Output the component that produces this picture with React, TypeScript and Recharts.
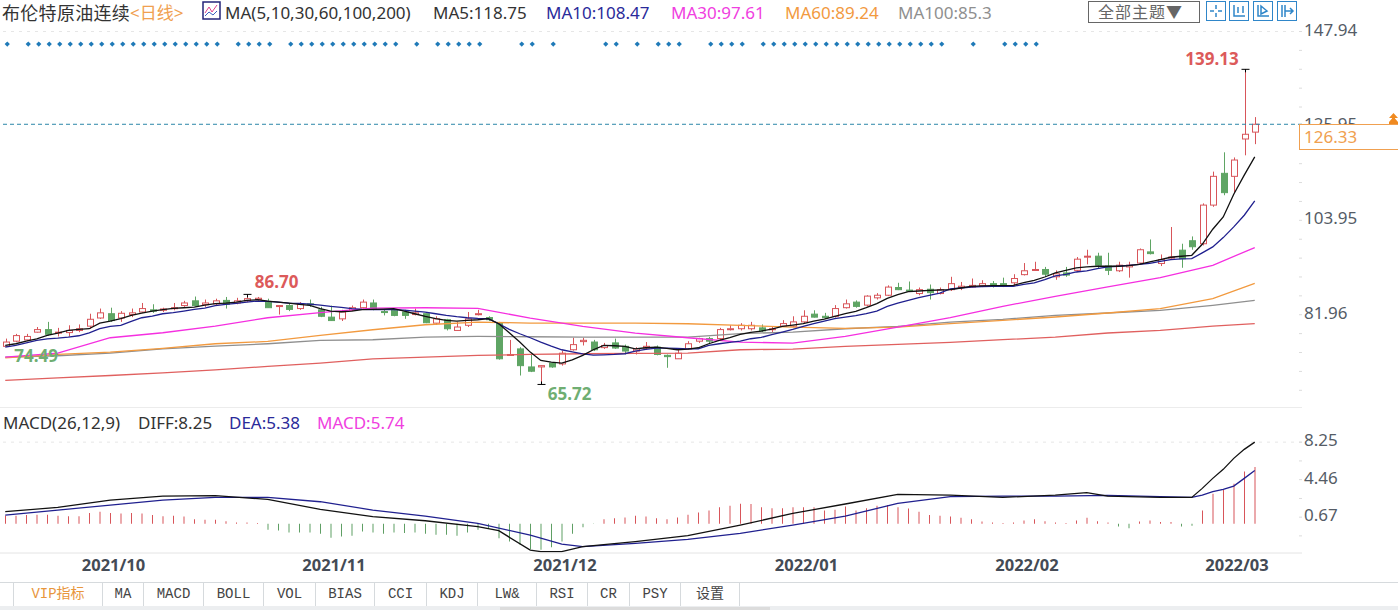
import React from "react";
import {
  Bar,
  Cell,
  ComposedChart,
  Line,
  ReferenceDot,
  ReferenceLine,
  XAxis,
  YAxis,
} from "recharts";

const dates = [
  "2021/09/22","2021/09/23","2021/09/24","2021/09/27","2021/09/28","2021/09/29","2021/09/30",
  "2021/10/01","2021/10/04","2021/10/05","2021/10/06","2021/10/07","2021/10/08","2021/10/11","2021/10/12","2021/10/13","2021/10/14","2021/10/15","2021/10/18","2021/10/19","2021/10/20","2021/10/21","2021/10/22","2021/10/25","2021/10/26","2021/10/27","2021/10/28","2021/10/29",
  "2021/11/01","2021/11/02","2021/11/03","2021/11/04","2021/11/05","2021/11/08","2021/11/09","2021/11/10","2021/11/11","2021/11/12","2021/11/15","2021/11/16","2021/11/17","2021/11/18","2021/11/19","2021/11/22","2021/11/23","2021/11/24","2021/11/25","2021/11/26","2021/11/29","2021/11/30",
  "2021/12/01","2021/12/02","2021/12/03","2021/12/06","2021/12/07","2021/12/08","2021/12/09","2021/12/10","2021/12/13","2021/12/14","2021/12/15","2021/12/16","2021/12/17","2021/12/20","2021/12/21","2021/12/22","2021/12/23","2021/12/24","2021/12/27","2021/12/28","2021/12/29","2021/12/30","2021/12/31",
  "2022/01/03","2022/01/04","2022/01/05","2022/01/06","2022/01/07","2022/01/10","2022/01/11","2022/01/12","2022/01/13","2022/01/14","2022/01/17","2022/01/18","2022/01/19","2022/01/20","2022/01/21","2022/01/24","2022/01/25","2022/01/26","2022/01/27","2022/01/28","2022/01/31",
  "2022/02/01","2022/02/02","2022/02/03","2022/02/04","2022/02/07","2022/02/08","2022/02/09","2022/02/10","2022/02/11","2022/02/14","2022/02/15","2022/02/16","2022/02/17","2022/02/18","2022/02/21","2022/02/22","2022/02/23","2022/02/24","2022/02/25","2022/02/28",
  "2022/03/01","2022/03/02","2022/03/03","2022/03/04","2022/03/07","2022/03/08",
];
const monthTicks = ["2021/10/01", "2021/11/01", "2021/12/01", "2022/01/03", "2022/02/01", "2022/03/01"];
const monthLabels = ["2021/10", "2021/11", "2021/12", "2022/01", "2022/02", "2022/03"];

const opens = [
  74.6,75.8,76.1,77.9,78.5,77.7,77.8,78.3,79.3,81.2,
  82.2,81.2,82.0,82.6,83.1,83.0,83.4,84.1,85.2,84.3,
  84.5,85.3,84.7,85.2,85.5,84.9,83.9,84.1,83.4,84.5,
  83.1,81.4,81.0,83.0,83.6,84.7,82.7,83.0,82.6,82.0,
  82.2,80.0,80.8,78.3,79.5,82.0,81.3,79.9,72.5,74.0,
  69.8,69.8,70.7,70.5,73.8,75.7,75.6,74.3,75.4,74.6,
  73.5,74.2,74.4,72.5,71.7,74.0,75.8,76.4,76.4,78.5,
  78.7,78.7,78.9,78.5,79.3,79.3,80.3,82.1,81.6,81.6,
  83.6,84.9,84.2,85.9,86.5,88.3,87.7,86.9,87.9,86.9,
  87.8,88.3,88.4,88.7,89.2,89.2,89.4,91.3,92.3,92.5,
  90.8,91.7,92.3,95.4,95.6,93.3,92.2,93.1,94.0,96.6,
  93.9,95.3,97.0,99.2,98.5,107.5,114.9,114.2,122.9,124.5,
];
const highs = [
  76.4,77.5,77.5,79.1,80.3,78.9,79.5,79.7,82.2,83.4,
  83.6,82.8,83.4,84.7,84.4,83.6,84.7,85.2,86.2,85.5,
  85.7,86.1,85.9,86.7,86.1,85.7,84.2,84.7,84.9,85.5,
  83.8,84.1,83.1,84.1,85.5,85.5,83.1,83.4,83.1,83.4,
  82.2,81.6,81.0,80.3,82.6,83.1,81.6,80.3,76.1,74.4,
  72.9,70.2,70.9,73.6,76.6,76.6,76.1,75.4,76.4,75.0,
  74.4,75.6,74.8,72.7,74.0,75.8,76.6,76.8,78.9,79.5,
  80.0,80.3,79.7,79.3,80.7,81.6,83.0,83.0,82.4,84.2,
  85.5,85.3,86.5,87.0,88.8,89.4,89.7,88.3,89.0,88.3,
  90.8,89.6,90.4,90.0,89.8,90.6,91.4,94.0,94.3,93.1,
  92.3,93.1,95.4,97.1,96.4,96.4,94.3,94.3,97.4,99.5,
  96.0,102.4,98.5,100.2,107.9,115.3,119.8,118.6,139.13,128.0,
];
const lows = [
  74.49,75.6,75.8,77.8,77.1,76.9,76.9,77.9,78.7,81.0,
  80.3,80.3,81.4,82.4,82.4,82.6,83.0,83.8,83.9,83.8,
  84.1,83.4,84.4,84.9,85.2,83.6,82.0,82.8,83.1,83.8,
  81.4,80.5,80.5,82.8,83.4,83.0,81.8,81.6,81.0,81.8,
  80.0,79.6,78.3,78.3,79.1,81.8,80.5,71.5,72.4,67.8,
  68.6,65.72,69.6,70.1,73.6,74.8,73.5,74.0,74.0,72.7,
  72.7,73.8,72.5,69.6,71.7,73.8,75.4,75.2,76.1,78.3,
  78.3,78.3,77.9,77.7,79.1,79.1,80.0,81.3,81.0,81.3,
  83.4,83.6,83.9,85.5,86.3,87.7,87.3,86.5,85.5,86.7,
  87.5,87.7,88.3,88.4,88.3,88.4,88.6,91.1,92.2,90.9,
  90.1,90.8,91.9,93.7,92.7,91.2,91.9,90.6,93.7,96.0,
  93.3,95.0,92.9,97.1,98.1,107.1,109.8,110.4,119.1,121.7,
];
const closes = [
  75.6,77.1,76.9,78.5,77.4,77.9,78.3,78.7,80.9,82.4,
  80.6,82.3,82.4,83.4,82.8,83.3,83.6,84.7,84.1,84.7,
  85.2,84.4,85.2,85.7,85.8,83.6,84.1,83.2,84.4,84.3,
  81.6,80.6,82.6,83.6,84.9,83.4,82.6,81.8,81.8,82.4,
  80.1,81.0,78.7,79.1,81.0,82.2,80.8,71.7,72.7,70.1,
  68.8,70.1,69.8,73.0,75.0,76.0,73.8,74.8,74.2,73.5,
  74.0,74.6,72.7,72.2,73.0,75.2,76.4,75.8,78.5,78.7,
  79.5,79.5,78.2,78.7,79.9,80.3,81.6,81.4,81.3,83.4,
  84.5,83.9,86.3,86.5,88.4,87.8,87.5,87.8,87.1,87.8,
  89.2,88.6,88.8,89.2,89.0,89.0,90.4,92.2,92.5,91.4,
  91.5,91.2,94.9,95.6,93.5,92.3,93.5,93.5,97.1,96.2,
  94.8,95.4,95.0,97.8,107.5,114.2,110.4,118.0,124.0,126.33,
];

const ma5 = [
  74.81,75.2,75.82,76.36,77.14,77.69,78.31,78.54,78.7,80.02,
  80.48,81.03,81.81,82.35,82.82,83.13,83.44,83.59,83.75,84.22,
  84.53,84.68,84.92,85.3,85.46,85.15,84.92,84.68,84.37,84.14,
  83.36,82.82,82.66,82.82,83.13,83.2,83.28,83.36,82.82,82.19,
  81.57,81.03,80.64,80.48,80.64,80.79,81.03,79.86,77.76,75.59,
  73.25,71.31,70.92,70.69,71.47,72.48,73.8,74.81,74.73,74.58,
  74.03,74.27,74.42,74.11,73.8,73.95,74.27,75.2,75.98,76.6,
  77.38,77.85,78.16,78.63,79.25,79.56,79.87,80.49,80.96,81.58,
  82.2,82.75,83.6,84.53,85.78,86.63,87.33,87.49,87.65,87.72,
  87.8,88.19,88.58,88.66,88.73,88.73,88.81,89.43,89.98,90.75,
  91.7,92.31,92.86,93.09,93.25,93.25,93.25,93.4,93.71,94.26,
  94.8,95.35,95.58,95.81,98.38,101.88,104.75,110.04,114.47,118.75,
];
const ma10 = [
  74.42,74.81,75.43,75.97,76.36,76.52,76.75,77.06,77.76,78.7,
  79.24,79.47,80.41,81.26,81.65,82.19,82.43,82.82,83.21,83.52,
  84.06,84.37,84.6,84.92,85.15,85.07,84.92,84.68,84.6,84.45,
  84.22,83.91,83.67,83.36,83.2,83.13,83.13,83.13,83.05,82.82,
  82.58,82.19,81.81,81.5,81.26,81.1,81.03,79.86,78.54,77.53,
  76.6,75.59,74.65,73.8,73.33,72.86,72.55,72.63,72.71,72.87,
  73.49,73.88,74.19,74.19,74.11,74.03,74.03,74.82,75.2,75.52,
  75.83,76.37,76.68,77.3,77.93,78.55,79.25,79.87,80.49,81.04,
  81.42,81.74,82.2,82.82,83.91,84.69,85.31,85.93,86.48,87.02,
  87.96,88.19,88.42,88.5,88.58,88.58,88.58,89.04,89.36,90.13,
  91.0,91.38,91.92,92.16,92.7,93.09,93.25,93.48,93.71,93.95,
  94.41,94.8,94.96,95.03,96.36,97.76,99.93,102.42,105.14,108.47,
];

// Readings of the slow averages, taken on these candles only
const slowDays = [0,5,10,15,20,25,30,35,40,45,50,55,60,65,70,75,80,85,90,95,100,105,110,115,119];
const ma30 = [72.09,73.02,76.6,77.76,79.32,81.26,82.43,83.52,83.59,83.44,81.18,79.24,77.69,76.6,75.59,75.36,76.92,79.09,81.27,83.91,86.25,88.43,90.6,93.48,97.61];
const ma60 = [71.93,72.71,73.25,74.11,75.2,75.74,77.14,78.46,79.63,80.25,80.0,80.0,80.0,79.86,79.48,79.09,78.78,79.09,79.87,80.65,81.43,82.36,83.37,85.7,89.24];
const ma100 = [72.09,72.4,73.02,74.03,74.65,75.2,75.97,76.13,76.75,76.91,76.83,76.75,76.75,76.75,77.54,77.93,78.7,79.25,80.26,80.88,81.82,82.36,82.98,84.15,85.3];
const ma200 = [66.65,67.27,67.81,68.43,69.13,69.91,70.69,71.7,72.09,72.48,72.71,72.87,72.94,73.02,73.8,73.96,74.58,75.05,75.52,76.14,76.76,77.7,78.32,79.33,79.87];

const signalDays = [
  0,2,3,4,5,6,7,8,9,10,11,12,13,14,15,16,17,18,19,20,22,23,24,25,
  27,28,29,30,31,32,33,34,35,36,37,39,41,42,43,44,45,49,50,52,57,58,60,62,63,64,
  67,68,69,70,72,73,74,75,76,77,78,79,80,81,82,83,84,85,86,87,88,89,92,95,96,97,98,
];
const signalLevel = 145;

const macdBars = [
  0.81,0.81,0.88,0.91,0.91,0.81,0.77,0.77,1.08,1.21,
  1.08,1.04,1.08,1.04,0.88,0.77,0.81,0.74,0.47,0.4,
  0.4,0.27,0.13,0.13,0.07,-0.61,-0.67,-0.88,-0.88,-0.88,
  -1.01,-1.41,-1.28,-1.21,-0.77,-0.88,-1.01,-0.88,-0.94,-0.88,
  -1.01,-1.11,-1.11,-1.21,-0.88,-0.61,-0.44,-1.45,-1.78,-2.12,
  -2.56,-2.63,-2.36,-1.78,-1.01,-0.34,-0.03,0.47,0.57,0.64,
  0.81,0.74,0.57,0.47,0.64,0.91,1.14,1.35,1.68,1.82,
  2.02,1.99,1.68,1.58,1.58,1.68,1.68,1.68,1.35,1.41,
  1.75,1.35,1.58,1.82,1.89,1.68,1.55,1.21,0.88,0.81,
  0.74,0.61,0.47,0.24,0.13,0.07,0.13,0.34,0.47,0.27,
  0.13,0.07,0.34,0.61,0.27,0.13,-0.27,-0.44,0.24,0.34,
  0.17,0.17,-0.27,-0.2,1.35,3.03,3.44,4.04,5.29,5.74,
];
const diffDays = [0,5,10,15,20,25,30,35,40,45,47,50,51,53,55,60,65,70,75,80,85,90,95,100,103,105,110,113,114,115,116,117,118,119];
const diffValues = [1.22,1.66,2.4,2.8,2.84,2.47,1.46,0.72,0.31,-0.29,-0.7,-2.65,-2.82,-2.82,-2.31,-1.81,-1.2,-0.13,1.05,2.0,2.97,2.9,2.67,2.9,3.14,2.8,2.67,2.67,3.58,4.59,5.5,6.61,7.52,8.25];
const deaDays = [0,5,10,15,20,25,30,35,40,45,50,53,55,60,65,70,75,80,85,90,95,100,105,110,113,114,115,116,117,118,119];
const deaValues = [0.88,1.39,1.89,2.4,2.67,2.67,2.23,1.39,0.78,0.04,-1.14,-2.05,-2.31,-1.98,-1.57,-0.97,-0.13,0.78,2.06,2.74,2.8,2.8,2.87,2.74,2.67,2.9,3.24,3.48,3.81,4.59,5.38];

const priceTicks = [147.94,143.54,139.14,134.74,130.35,125.95,121.55,117.15,112.75,108.35,103.95,99.55,95.15,90.76,86.36,81.96,77.56,73.16,68.76,64.36];
const priceLabelled = [147.94, 125.95, 103.95, 81.96];
const macdTicks = [8.25, 6.35, 4.46, 2.56, 0.67, -1.22];
const macdLabelled = [8.25, 4.46, 0.67];
const tabs = ["VIP指标", "MA", "MACD", "BOLL", "VOL", "BIAS", "CCI", "KDJ", "LW&", "RSI", "CR", "PSY", "设置"];

const lookup = (days: number[], values: number[], i: number) => {
  const at = days.indexOf(i);
  return at < 0 ? null : values[at];
};

const priceRows = dates.map((date, i) => ({
  date,
  open: opens[i],
  high: highs[i],
  low: lows[i],
  close: closes[i],
  ma5: ma5[i],
  ma10: ma10[i],
  ma30: lookup(slowDays, ma30, i),
  ma60: lookup(slowDays, ma60, i),
  ma100: lookup(slowDays, ma100, i),
  ma200: lookup(slowDays, ma200, i),
  signal: signalDays.includes(i) ? signalLevel : null,
}));
const macdRows = dates.map((date, i) => ({
  date,
  macd: macdBars[i],
  diff: lookup(diffDays, diffValues, i),
  dea: lookup(deaDays, deaValues, i),
}));

const UP = "#d8555a";
const DOWN = "#5fa564";
const LATIN = '"Noto Sans", "Noto Sans CJK SC", sans-serif';
const EXTREMES = [23, 51, 118];

const Candle = (props: any) => {
  const { x, y, width, height, payload, index } = props;
  const h = Math.abs(height);
  const top = Math.min(y, y + height);
  const cx = Math.round(x + width / 2) + 0.5;
  const range = payload.high - payload.low || 1;
  const toY = (v: number) => top + ((payload.high - v) / range) * h;
  const up = payload.close >= payload.open;
  const bodyTop = toY(Math.max(payload.open, payload.close));
  const bodyBottom = toY(Math.min(payload.open, payload.close));
  const color = up ? UP : DOWN;
  const isHigh = index === 23 || index === 118;
  return (
    <g>
      <line x1={cx} x2={cx} y1={top} y2={top + h} stroke={color} strokeWidth={1} />
      <rect
        x={cx - 3}
        y={bodyTop}
        width={6}
        height={Math.max(bodyBottom - bodyTop, 1)}
        fill={up ? "#fff" : color}
        stroke={color}
        strokeWidth={1}
      />
      {EXTREMES.includes(index) && (
        <g stroke="#000" strokeWidth={1}>
          <line x1={cx - 4} x2={cx + 4} y1={isHigh ? top : top + h} y2={isHigh ? top : top + h} />
          <line x1={cx} x2={cx} y1={isHigh ? top : top + h - 3} y2={isHigh ? top + 3 : top + h} />
        </g>
      )}
    </g>
  );
};

const SignalDot = (props: any) => {
  const { cx, cy, value } = props;
  if (value == null) return <g key={props.index} />;
  const x = cx + 2;
  return (
    <path
      key={props.index}
      d={`M${x} ${cy - 2.6}L${x + 2.6} ${cy}L${x} ${cy + 2.6}L${x - 2.6} ${cy}Z`}
      fill="#1f7ab8"
    />
  );
};

const makeYTick = (labelled: number[]) => (props: any) => {
  const { y, payload } = props;
  const on = labelled.includes(payload.value);
  return (
    <g>
      <line x1={1299} x2={1302} y1={y} y2={y} stroke="#dcdcdc" />
      {on && (
        <text x={1304} y={y - 2} dy={6} fontSize={17} fontFamily={LATIN} fill="#555c66">
          {payload.value.toFixed(2)}
        </text>
      )}
    </g>
  );
};

const MonthTick = (props: any) => {
  const { x, y, payload } = props;
  const label = monthLabels[monthTicks.indexOf(payload.value)];
  return (
    <g>
      <line x1={x + 1} x2={x + 1} y1={553} y2={562} stroke="#e2e2e2" />
      <text
        x={x + 3}
        y={571 - 408 + (y - y)}
        fontSize={16.5}
        fontWeight={700}
        fontFamily={LATIN}
        fill="#444b55"
      >
        {label}
      </text>
    </g>
  );
};

const peakLabel = (text: string, color: string, dx: number, dy: number) => (props: any) => (
  <text
    x={props.cx + dx}
    y={props.cy + dy}
    fill={color}
    fontSize={17}
    fontWeight={700}
    fontFamily={LATIN}
  >
    {text}
  </text>
);

const Txt = ({ left, top, color, size = 17, children, style }: any) => (
  <span
    style={{
      position: "absolute",
      left,
      top,
      color,
      fontSize: size,
      lineHeight: "20px",
      whiteSpace: "nowrap",
      fontFamily: LATIN,
      ...style,
    }}
  >
    {children}
  </span>
);

const IconBox = ({ left, path }: { left: number; path: string }) => (
  <svg
    style={{ position: "absolute", left, top: 1 }}
    width={20}
    height={20}
    viewBox="0 0 20 20"
  >
    <rect x={0.5} y={0.5} width={19} height={19} fill="#fff" stroke="#2f86c9" />
    <path d={path} stroke="#2f86c9" strokeWidth={1.5} fill="none" />
  </svg>
);

const tabEdges = [13, 102, 143, 203, 263, 315, 374, 426, 477, 536, 587, 629, 680, 740];

export default function App() {
  return (
    <div
      style={{
        position: "absolute",
        left: 0,
        top: 0,
        width: 1398,
        height: 610,
        overflow: "hidden",
        background: "#fff",
      }}
    >
      <div style={{ position: "absolute", left: 0, top: 0 }}>
        <ComposedChart
          width={1398}
          height={408}
          data={priceRows}
          margin={{ top: 31.5, right: 0, bottom: 0.5, left: 0 }}
        >
          <XAxis dataKey="date" hide padding={{ left: 0, right: 42 }} />
          <YAxis
            orientation="right"
            width={96}
            domain={[60.35, 147.94]}
            ticks={priceTicks}
            interval={0}
            axisLine={false}
            tickLine={false}
            tick={makeYTick(priceLabelled)}
            allowDataOverflow
          />
          <ReferenceLine y={147.94} stroke="#e6e6e6" strokeDasharray="3 5" />
          <Bar
            dataKey={(d: any) => [d.low, d.high]}
            barSize={7}
            shape={<Candle />}
            isAnimationActive={false}
          />
          <Line dataKey="ma200" stroke="#e0605f" strokeWidth={1.3} dot={false} connectNulls isAnimationActive={false} />
          <Line dataKey="ma100" stroke="#8f8f8f" strokeWidth={1.3} dot={false} connectNulls isAnimationActive={false} />
          <Line dataKey="ma60" stroke="#f29a3f" strokeWidth={1.3} dot={false} connectNulls isAnimationActive={false} />
          <Line dataKey="ma30" stroke="#f52fe0" strokeWidth={1.3} dot={false} connectNulls isAnimationActive={false} />
          <Line dataKey="ma10" stroke="#20208f" strokeWidth={1.3} dot={false} isAnimationActive={false} />
          <Line dataKey="ma5" stroke="#111" strokeWidth={1.3} dot={false} isAnimationActive={false} />
          <Line dataKey="signal" stroke="none" dot={<SignalDot />} isAnimationActive={false} />
          <ReferenceLine y={closes[119]} stroke="#2b86a8" strokeDasharray="4 3" />
          <ReferenceDot x={dates[23]} y={highs[23]} r={0} shape={peakLabel("86.70", "#dc5a5a", 8, -6)} />
          <ReferenceDot x={dates[118]} y={highs[118]} r={0} shape={peakLabel("139.13", "#dc5a5a", -59, -4)} />
          <ReferenceDot x={dates[51]} y={lows[51]} r={0} shape={peakLabel("65.72", "#6fae72", 7, 16)} />
          <ReferenceDot x={dates[0]} y={lows[0]} r={0} shape={peakLabel("74.49", "#6fae72", 9, 15)} />
        </ComposedChart>
      </div>

      <div style={{ position: "absolute", left: 0, top: 407, width: 1302, height: 1, background: "#ececec" }} />

      <div style={{ position: "absolute", left: 0, top: 408 }}>
        <ComposedChart
          width={1398}
          height={170}
          data={macdRows}
          margin={{ top: 0, right: 0, bottom: 0, left: 0 }}
        >
          <XAxis
            dataKey="date"
            height={25}
            padding={{ left: 0, right: 42 }}
            ticks={monthTicks}
            interval={0}
            axisLine={{ stroke: "#e4e4e4" }}
            tickLine={false}
            tick={<MonthTick />}
          />
          <YAxis
            orientation="right"
            width={96}
            domain={[-2.95, 11.7]}
            ticks={macdTicks}
            interval={0}
            axisLine={false}
            tickLine={false}
            tick={makeYTick(macdLabelled)}
            allowDataOverflow
          />
          <ReferenceLine y={8.25} stroke="#e6e6e6" strokeDasharray="3 5" />
          <Bar dataKey="macd" barSize={1} isAnimationActive={false}>
            {macdRows.map((r) => (
              <Cell key={r.date} fill={r.macd >= 0 ? "#d8555a" : "#5f9f64"} />
            ))}
          </Bar>
          <Line dataKey="dea" stroke="#20208f" strokeWidth={1.3} dot={false} connectNulls isAnimationActive={false} />
          <Line dataKey="diff" stroke="#111" strokeWidth={1.3} dot={false} connectNulls isAnimationActive={false} />
        </ComposedChart>
      </div>

      {/* header */}
      <Txt left={2} top={3} color="#333" size={18} style={{ letterSpacing: 0.3 }}>布伦特原油连续</Txt>
      <Txt left={130} top={3} color="#f0a050" size={17}>{"<日线>"}</Txt>
      <svg style={{ position: "absolute", left: 202, top: 1 }} width={19} height={19} viewBox="0 0 19 19">
        <rect x={1} y={1} width={17} height={17} fill="#fff" stroke="#24247a" strokeWidth={1.5} />
        <path d="M3 12L7 6L10 11L15 4" stroke="#e0408a" fill="none" />
        <path d="M3 15L7 11L11 14L15 10" stroke="#3a5fc0" fill="none" />
      </svg>
      <Txt left={225} top={3} color="#333">MA(5,10,30,60,100,200)</Txt>
      <Txt left={433} top={3} color="#333">MA5:118.75</Txt>
      <Txt left={546} top={3} color="#2a2a9a">MA10:108.47</Txt>
      <Txt left={671} top={3} color="#f040e0">MA30:97.61</Txt>
      <Txt left={785} top={3} color="#f29a3f">MA60:89.24</Txt>
      <Txt left={898} top={3} color="#8f8f8f">MA100:85.3</Txt>

      {/* toolbar */}
      <div
        style={{
          position: "absolute",
          left: 1088,
          top: 1,
          width: 110,
          height: 20,
          border: "1px solid #666",
          boxSizing: "content-box",
        }}
      />
      <Txt left={1098} top={2} color="#666" size={16} style={{ letterSpacing: 1 }}>全部主题▼</Txt>
      <IconBox left={1206} path="M10 4V8M10 12V16M4 10H8M12 10H16" />
      <IconBox left={1229} path="M5 4V15H16M9 6V12M14 5V12" />
      <IconBox left={1253} path="M5 4V15H16M8 5L14 10L8 13Z" />
      <IconBox left={1277} path="M5 4V16M8 4V16M8 10H16M13 7L16 10L13 13" />

      {/* last price tag */}
      <div
        style={{
          position: "absolute",
          left: 1299,
          top: 124,
          width: 99,
          height: 26,
          background: "#fff",
          border: "1px solid #f0a050",
          borderRight: "none",
          boxSizing: "border-box",
        }}
      />
      <Txt left={1304} top={127} color="#f0a050">126.33</Txt>
      <svg style={{ position: "absolute", left: 1389, top: 113 }} width={9} height={11} viewBox="0 0 9 11">
        <path d="M4.5 0L9 5H6V5.5L9 9V11H0V9L3 5.5V5H0Z" fill="#f08a20" />
      </svg>

      {/* MACD header */}
      <Txt left={3} top={413} color="#333">MACD(26,12,9)</Txt>
      <Txt left={138} top={413} color="#333">DIFF:8.25</Txt>
      <Txt left={229} top={413} color="#2a2a9a">DEA:5.38</Txt>
      <Txt left={317} top={413} color="#f040e0">MACD:5.74</Txt>

      {/* tabs */}
      <div style={{ position: "absolute", left: 0, top: 582, width: 1398, height: 1, background: "#d6dadd" }} />
      <div style={{ position: "absolute", left: 0, top: 606, width: 1398, height: 4, background: "#eceef0" }} />
      <div style={{ position: "absolute", left: 500, top: 607, width: 270, height: 3, background: "#dcdcdc" }} />
      {tabEdges.slice(0, -1).map((edge, i) => (
        <div
          key={tabs[i]}
          style={{
            position: "absolute",
            left: edge,
            top: 583,
            width: tabEdges[i + 1] - edge,
            height: 23,
            borderLeft: "1px solid #d6dadd",
            borderRight: i === tabs.length - 1 ? "1px solid #d6dadd" : "none",
            boxSizing: "border-box",
            textAlign: "center",
            lineHeight: "23px",
            fontSize: 14,
            fontFamily: '"Liberation Mono", "Noto Sans CJK SC", monospace',
            color: i === 0 ? "#e8963c" : "#444",
            background: "#fff",
          }}
        >
          {tabs[i]}
        </div>
      ))}
    </div>
  );
}
